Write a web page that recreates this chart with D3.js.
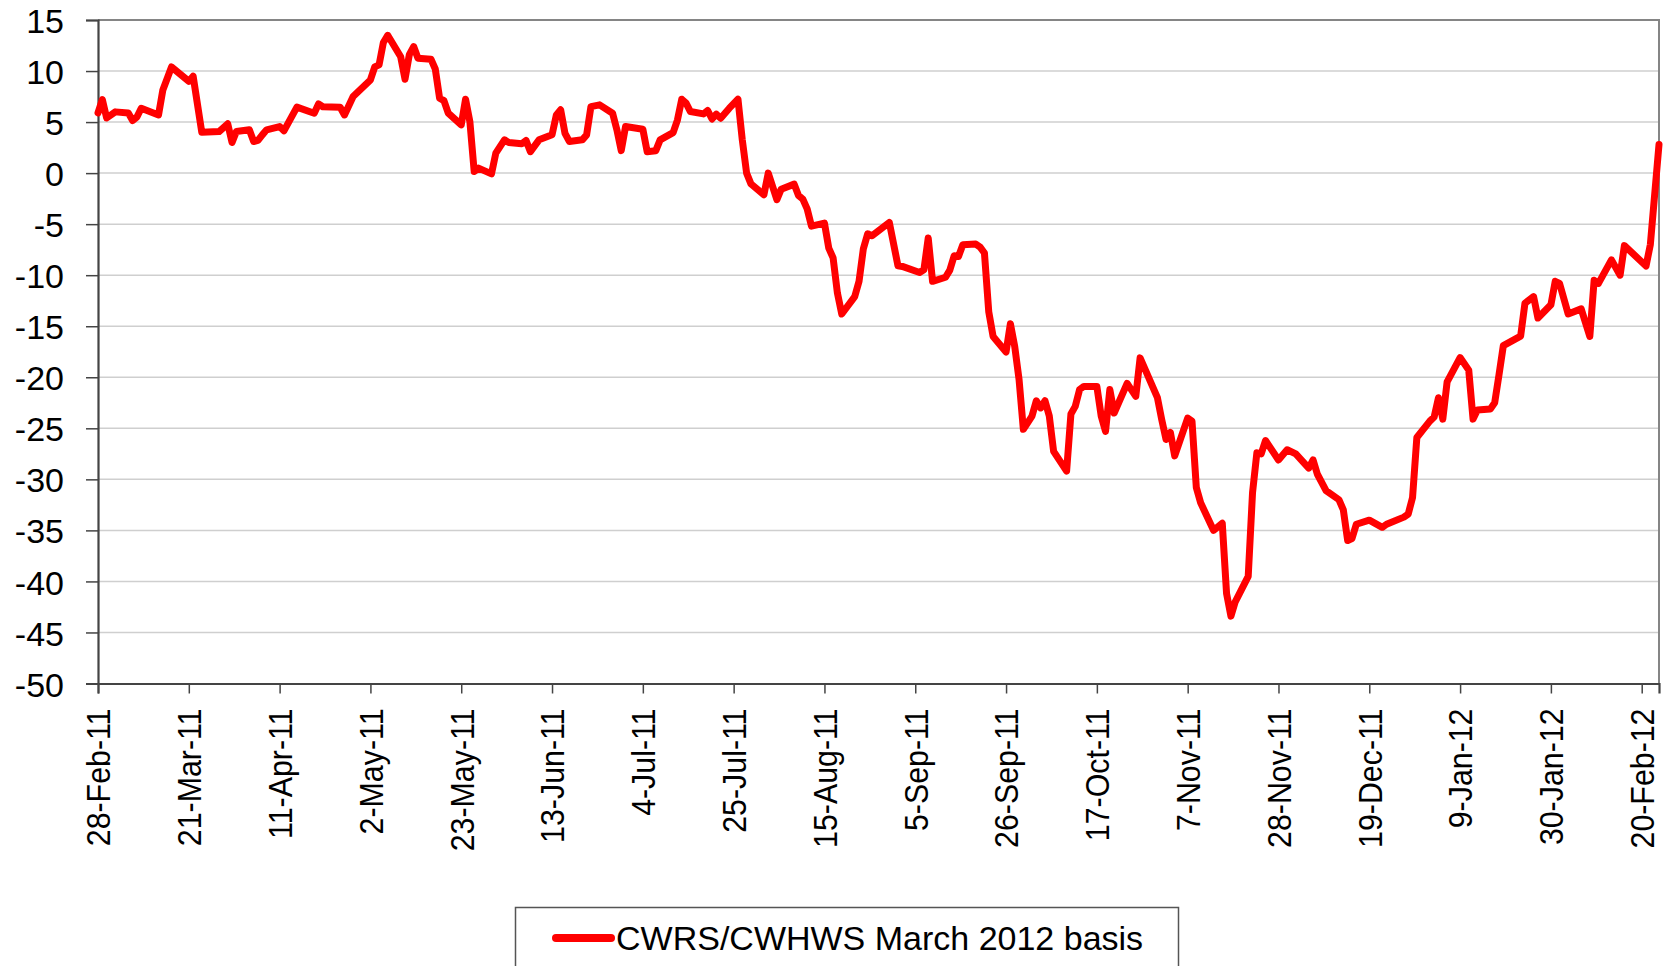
<!DOCTYPE html>
<html lang="en">
<head>
  <meta charset="UTF-8">
  <title>CWRS/CWHWS March 2012 basis</title>
  <script src="https://d3js.org/d3.v7.min.js"></script>
  <style>
    body { margin: 0; background: #fff; }
    svg text { font-family: Arial, "Liberation Sans", sans-serif; fill: #000; }
  </style>
</head>
<body>
  <svg id="chart" width="1668" height="966"></svg>

  <script>
    // daily basis
    const dates = [
      "2011-02-28","2011-03-01","2011-03-02","2011-03-04","2011-03-07","2011-03-08","2011-03-09","2011-03-10",
      "2011-03-14","2011-03-15","2011-03-17","2011-03-21","2011-03-22","2011-03-24","2011-03-28","2011-03-30",
      "2011-03-31","2011-04-01","2011-04-04","2011-04-05","2011-04-06","2011-04-07","2011-04-08","2011-04-11",
      "2011-04-12","2011-04-15","2011-04-19","2011-04-20","2011-04-21","2011-04-25","2011-04-26","2011-04-28",
      "2011-05-02","2011-05-03","2011-05-04","2011-05-05","2011-05-06","2011-05-09","2011-05-10","2011-05-11",
      "2011-05-12","2011-05-13","2011-05-16","2011-05-17","2011-05-18","2011-05-19","2011-05-20","2011-05-23",
      "2011-05-24","2011-05-25","2011-05-26","2011-05-27","2011-05-30","2011-05-31","2011-06-02","2011-06-03",
      "2011-06-06","2011-06-07","2011-06-08","2011-06-10","2011-06-13","2011-06-14","2011-06-15","2011-06-16",
      "2011-06-17","2011-06-20","2011-06-21","2011-06-22","2011-06-24","2011-06-27","2011-06-28","2011-06-29",
      "2011-06-30","2011-07-04","2011-07-05","2011-07-07","2011-07-08","2011-07-11","2011-07-12","2011-07-13",
      "2011-07-14","2011-07-15","2011-07-18","2011-07-19","2011-07-20","2011-07-21","2011-07-22","2011-07-24",
      "2011-07-26","2011-07-27","2011-07-28","2011-07-29","2011-08-01","2011-08-02","2011-08-04","2011-08-05",
      "2011-08-08","2011-08-09","2011-08-10","2011-08-11","2011-08-12","2011-08-15","2011-08-16","2011-08-17",
      "2011-08-18","2011-08-19","2011-08-22","2011-08-23","2011-08-24","2011-08-25","2011-08-26","2011-08-30",
      "2011-09-01","2011-09-02","2011-09-06","2011-09-07","2011-09-08","2011-09-09","2011-09-12","2011-09-13",
      "2011-09-14","2011-09-15","2011-09-16","2011-09-19","2011-09-20","2011-09-21","2011-09-22","2011-09-23",
      "2011-09-26","2011-09-27","2011-09-28","2011-09-29","2011-09-30","2011-10-02","2011-10-03","2011-10-04",
      "2011-10-05","2011-10-06","2011-10-07","2011-10-10","2011-10-11","2011-10-12","2011-10-13","2011-10-14",
      "2011-10-17","2011-10-18","2011-10-19","2011-10-20","2011-10-21","2011-10-24","2011-10-26","2011-10-27",
      "2011-10-31","2011-11-01","2011-11-02","2011-11-03","2011-11-04","2011-11-07","2011-11-08","2011-11-09",
      "2011-11-10","2011-11-13","2011-11-15","2011-11-16","2011-11-17","2011-11-18","2011-11-21","2011-11-22",
      "2011-11-23","2011-11-24","2011-11-25","2011-11-28","2011-11-30","2011-12-02","2011-12-05","2011-12-06",
      "2011-12-07","2011-12-09","2011-12-12","2011-12-13","2011-12-14","2011-12-15","2011-12-16","2011-12-19",
      "2011-12-22","2011-12-23","2011-12-27","2011-12-28","2011-12-29","2011-12-30","2012-01-02","2012-01-03",
      "2012-01-04","2012-01-05","2012-01-06","2012-01-09","2012-01-11","2012-01-12","2012-01-13","2012-01-16",
      "2012-01-17","2012-01-18","2012-01-19","2012-01-23","2012-01-24","2012-01-26","2012-01-27","2012-01-30",
      "2012-01-31","2012-02-01","2012-02-03","2012-02-06","2012-02-08","2012-02-09","2012-02-10","2012-02-13",
      "2012-02-15","2012-02-16","2012-02-21","2012-02-22","2012-02-24"
    ];
    const basis = [
      5.9, 7.2, 5.4, 6.0, 5.9, 5.15, 5.5, 6.35,
      5.7, 8.15, 10.4, 9.0, 9.5, 4.0, 4.07, 4.83,
      3.0, 4.07, 4.24, 3.1, 3.2, 3.75, 4.24, 4.56,
      4.14, 6.46, 5.87, 6.78, 6.5, 6.46, 5.7, 7.5,
      9.13, 10.4, 10.6, 12.8, 13.5, 11.4, 9.2, 11.6,
      12.4, 11.26, 11.16, 10.2, 7.34, 7.1, 5.87, 4.73,
      7.24, 5.05, 0.16, 0.49, -0.07, 1.96, 3.26, 3.0,
      2.87, 3.2, 2.1, 3.26, 3.75, 5.7, 6.2, 3.9,
      3.1, 3.26, 3.75, 6.52, 6.69, 5.87, 4.24, 2.2,
      4.56, 4.3, 2.1, 2.2, 3.26, 3.97, 5.2, 7.24,
      6.85, 6.03, 5.8, 6.13, 5.3, 5.77, 5.38, 6.36,
      7.24, 3.26, 0.0, -1.05, -2.12, 0.0, -2.6, -1.57,
      -1.08, -2.2, -2.55, -3.5, -5.2, -4.9, -7.35, -8.3,
      -11.75, -13.8, -12.1, -10.6, -7.4, -5.94, -6.14, -4.83,
      -9.08, -9.14, -9.73, -9.47, -6.36, -10.6, -10.2, -9.5,
      -8.1, -8.16, -7.02, -6.95, -7.25, -7.83, -13.6, -16.0,
      -17.53, -14.75, -16.97, -20.2, -25.1, -23.8, -22.3, -23.0,
      -22.3, -23.8, -27.26, -29.2, -23.6, -22.85, -21.2, -20.9,
      -20.9, -23.8, -25.3, -21.2, -23.5, -20.6, -21.87, -18.1,
      -22.0, -24.15, -26.1, -25.4, -27.7, -24.0, -24.3, -30.8,
      -32.3, -35.0, -34.3, -41.2, -43.4, -42.0, -39.5, -31.3,
      -27.4, -27.5, -26.2, -28.1, -27.1, -27.5, -28.9, -28.1,
      -29.5, -31.1, -32.0, -33.0, -36.0, -35.8, -34.4, -34.0,
      -34.7, -34.4, -33.7, -33.4, -31.8, -25.9, -24.3, -23.9,
      -22.0, -24.1, -20.45, -18.07, -19.3, -24.1, -23.2, -23.1,
      -22.5, -19.75, -16.9, -15.97, -12.75, -12.1, -14.2, -12.9,
      -10.6, -10.8, -13.8, -13.3, -16.0, -10.5, -10.8, -8.5,
      -10.0, -7.1, -9.1, -7.0, 2.8
    ];

    // axis ticks every 3 weeks
    const tickDates = [
      "2011-02-28","2011-03-21","2011-04-11","2011-05-02","2011-05-23","2011-06-13",
      "2011-07-04","2011-07-25","2011-08-15","2011-09-05","2011-09-26","2011-10-17",
      "2011-11-07","2011-11-28","2011-12-19","2012-01-09","2012-01-30","2012-02-20"
    ];
    const yTicks = [15, 10, 5, 0, -5, -10, -15, -20, -25, -30, -35, -40, -45, -50];
    const seriesName = "CWRS/CWHWS March 2012 basis";

    const parse = d3.utcParse("%Y-%m-%d");
    const fmt = d3.utcFormat("%-d-%b-%y");

    const svg = d3.select("#chart");
    const plot = { left: 98, right: 1659, top: 20, bottom: 683.5 };

    const x = d3.scaleUtc()
      .domain([parse("2011-02-28"), parse("2012-02-24")])
      .range([plot.left, plot.right]);
    const y = d3.scaleLinear().domain([-50, 15]).range([plot.bottom, plot.top]);

    // gridlines
    svg.append("g")
      .selectAll("line")
      .data(yTicks.filter(v => v > -50 && v < 15))
      .join("line")
      .attr("x1", plot.left).attr("x2", plot.right)
      .attr("y1", d => y(d)).attr("y2", d => y(d))
      .attr("stroke", "#cfcfcf")
      .attr("stroke-width", 1.5);

    // plot border top/right
    svg.append("path")
      .attr("d", `M${plot.left},${plot.top}H${plot.right}V${plot.bottom}`)
      .attr("fill", "none")
      .attr("stroke", "#858585")
      .attr("stroke-width", 2);

    // y axis (plain hyphen for negatives, like the original)
    const yAxis = svg.append("g")
      .attr("transform", `translate(${plot.left},0)`)
      .call(d3.axisLeft(y).tickValues(yTicks).tickSize(12).tickPadding(22).tickFormat(d => String(d)));
    yAxis.select(".domain").attr("stroke", "#444").attr("stroke-width", 2.2);
    yAxis.selectAll(".tick line").attr("stroke", "#444").attr("stroke-width", 1.5);
    yAxis.selectAll(".tick text")
      .attr("font-size", 34)
      .attr("font-family", "Arial, 'Liberation Sans', sans-serif")
      .attr("fill", "#000")
      .attr("dy", "0.37em");

    // x axis, rotated and slightly condensed labels
    const squeeze = 0.92;
    const xAxis = svg.append("g")
      .attr("transform", `translate(0,${plot.bottom})`)
      .call(d3.axisBottom(x).tickValues(tickDates.map(parse)).tickSize(10).tickFormat(fmt));
    xAxis.select(".domain").attr("stroke", "#444").attr("stroke-width", 2.2);
    xAxis.selectAll(".tick line").attr("stroke", "#444").attr("stroke-width", 1.5);
    xAxis.selectAll(".tick text")
      .attr("font-size", 33)
      .attr("font-family", "Arial, 'Liberation Sans', sans-serif")
      .attr("fill", "#000")
      .attr("text-anchor", "end")
      .attr("transform", `rotate(-90) scale(${squeeze},1)`)
      .attr("x", -25 / squeeze)
      .attr("y", 0)
      .attr("dy", "0.36em");

    // series line
    const points = dates.map((d, i) => [parse(d), basis[i]]);
    svg.append("path")
      .datum(points)
      .attr("d", d3.line().x(d => x(d[0])).y(d => y(d[1])))
      .attr("fill", "none")
      .attr("stroke", "#ff0000")
      .attr("stroke-width", 7)
      .attr("stroke-linejoin", "round")
      .attr("stroke-linecap", "round");

    // legend
    const legend = svg.append("g");
    legend.append("rect")
      .attr("x", 515.5).attr("y", 907.5)
      .attr("width", 663).attr("height", 120)
      .attr("fill", "#fff")
      .attr("stroke", "#555")
      .attr("stroke-width", 1.5);
    legend.append("line")
      .attr("x1", 556).attr("x2", 611)
      .attr("y1", 938).attr("y2", 938)
      .attr("stroke", "#ff0000")
      .attr("stroke-width", 8)
      .attr("stroke-linecap", "round");
    legend.append("text")
      .attr("x", 616).attr("y", 950)
      .attr("font-size", 34)
      .text(seriesName);
  </script>
</body>
</html>
